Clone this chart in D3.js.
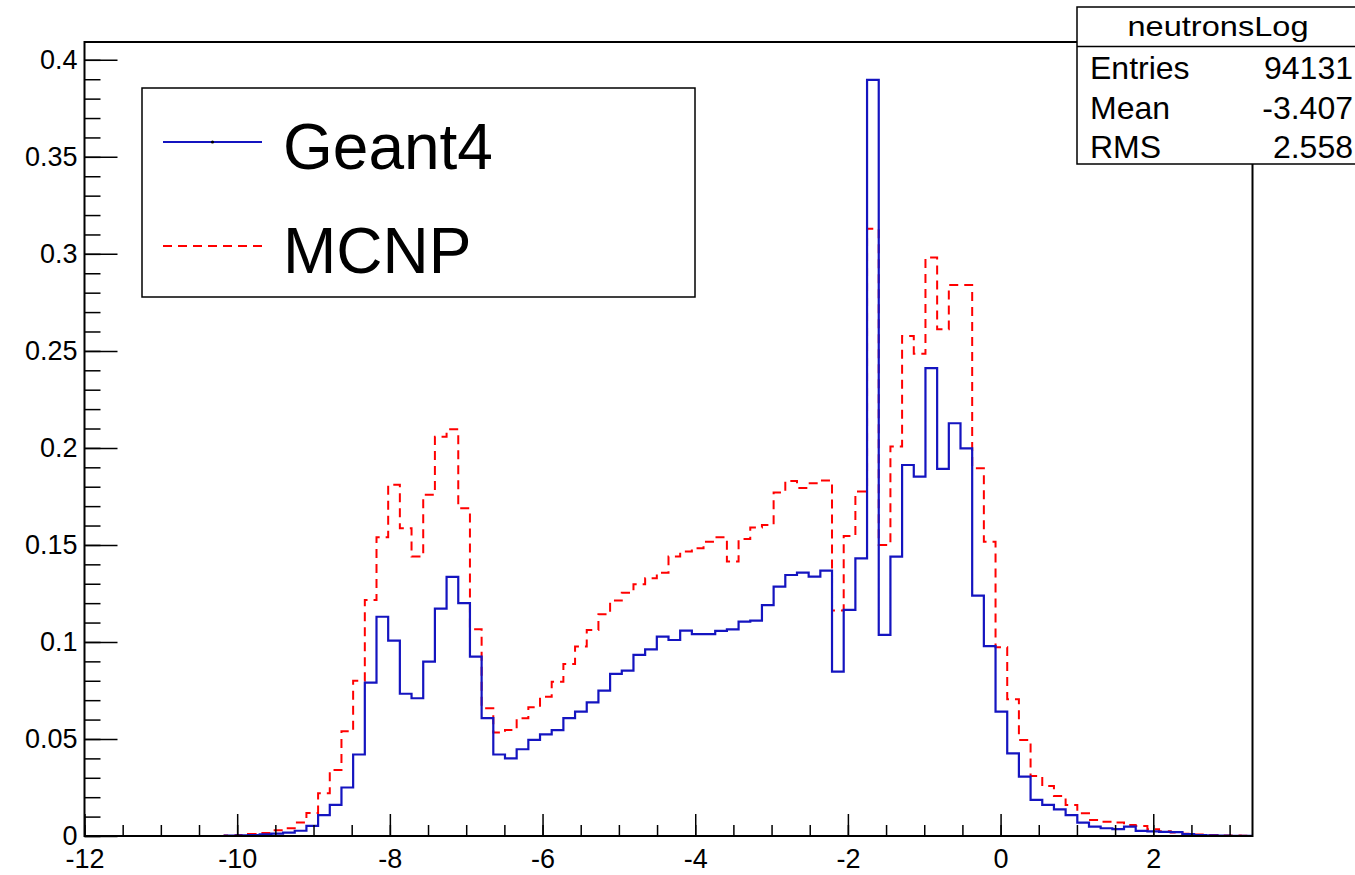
<!DOCTYPE html>
<html>
<head>
<meta charset="utf-8">
<script src="https://cdn.jsdelivr.net/npm/d3@7"></script>
<style>
  html, body { margin: 0; padding: 0; background: #fff; }
  svg { display: block; }
  text { font-family: "Liberation Sans", Arial, Helvetica, sans-serif; fill: #000; }
</style>
</head>
<body>
<svg id="chart" width="1355" height="875"></svg>
<script>
// ---- data ----
const xRange = [-12, 3.3];
const nBins = 100;

const geant4 = [
  0, 0, 0, 0, 0, 0, 0, 0, 0, 0,
  0, 0, 0.0002, 0.0003, 0.0005, 0.0008, 0.0012, 0.0017, 0.0027, 0.0052,
  0.0108, 0.016, 0.025, 0.042, 0.079, 0.113, 0.1007, 0.0733, 0.071, 0.0899,
  0.1172, 0.1335, 0.120, 0.0924, 0.0607, 0.042, 0.040, 0.0447, 0.0495, 0.0524,
  0.0546, 0.0607, 0.0641, 0.0689, 0.0749, 0.0835, 0.0852, 0.0933, 0.0962, 0.1027,
  0.101, 0.1058, 0.104, 0.104, 0.1057, 0.1065, 0.1105, 0.111, 0.119, 0.1285,
  0.1345, 0.1357, 0.1337, 0.1368, 0.0847, 0.1165, 0.1431, 0.3897, 0.1036, 0.144,
  0.1912, 0.1852, 0.2411, 0.1892, 0.2127, 0.1998, 0.1239, 0.0979, 0.0641, 0.0426,
  0.0306, 0.0186, 0.016, 0.0137, 0.0108, 0.0069, 0.0048, 0.004, 0.0035, 0.0048,
  0.0026, 0.0024, 0.0021, 0.002, 0.001, 0.0005, 0.0003, 0.0002, 0.0001, 0.0001
];

const mcnp = [
  0, 0, 0, 0, 0, 0, 0, 0, 0, 0,
  0, 0, 0.0002, 0.0005, 0.001, 0.0016, 0.003, 0.004, 0.007, 0.0118,
  0.022, 0.034, 0.054, 0.080, 0.1216, 0.154, 0.181, 0.1586, 0.144, 0.1758,
  0.2058, 0.2096, 0.1689, 0.1065, 0.0658, 0.0533, 0.0546, 0.0607, 0.0663, 0.0718,
  0.0795, 0.0887, 0.0976, 0.1062, 0.1143, 0.1213, 0.1254, 0.1297, 0.1328, 0.1357,
  0.144, 0.1466, 0.1483, 0.1517, 0.154, 0.1414, 0.153, 0.159, 0.1603, 0.177,
  0.183, 0.1794, 0.1818, 0.1832, 0.1162, 0.1546, 0.1775, 0.3129, 0.150, 0.2007,
  0.2577, 0.2485, 0.2981, 0.2612, 0.284, 0.284, 0.1895, 0.1517, 0.0973, 0.0705,
  0.0495, 0.0309, 0.0258, 0.0206, 0.016, 0.0117, 0.0082, 0.0074, 0.0069, 0.0057,
  0.0052, 0.0035, 0.0024, 0.0018, 0.0012, 0.0008, 0.0005, 0.0003, 0.0002, 0.0001
];

const xTicks = [-12, -10, -8, -6, -4, -2, 0, 2];
const xTickLabels = ["-12", "-10", "-8", "-6", "-4", "-2", "0", "2"];
const yTicks = [0, 0.05, 0.1, 0.15, 0.2, 0.25, 0.3, 0.35, 0.4];
const yTickLabels = ["0", "0.05", "0.1", "0.15", "0.2", "0.25", "0.3", "0.35", "0.4"];

const legendLabels = ["Geant4", "MCNP"];
const statsTitle = "neutronsLog";
const statsNames = ["Entries", "Mean", "RMS"];
const statsValues = ["94131", "-3.407", "2.558"];

// ---- layout ----
const svg = d3.select("#chart");
const plot = { left: 84.5, right: 1252.5, top: 42, bottom: 836 };
const yMax = d3.max(geant4.concat(mcnp)) * 1.05;

const x = d3.scaleLinear().domain(xRange).range([plot.left, plot.right]);
const y = d3.scaleLinear().domain([0, yMax]).range([plot.bottom, plot.top]);

const binW = (xRange[1] - xRange[0]) / nBins;
function stepPoints(vals) {
  const pts = vals.map((v, i) => [xRange[0] + i * binW, v]);
  pts.push([xRange[1], vals[vals.length - 1]]);
  return pts;
}
const stepLine = d3.line().x(d => x(d[0])).y(d => y(d[1])).curve(d3.curveStepAfter);

const blue = "#1414c0";
const red = "#ff0000";

// histograms
svg.append("path")
  .attr("d", stepLine(stepPoints(mcnp)))
  .attr("fill", "none").attr("stroke", red).attr("stroke-width", 2)
  .attr("stroke-dasharray", "9,6");
svg.append("path")
  .attr("d", stepLine(stepPoints(geant4)))
  .attr("fill", "none").attr("stroke", blue).attr("stroke-width", 2.2);

// axes (ticks inward, ROOT style)
const yMinor = d3.range(0, yMax, 0.01);
const xMinor = d3.range(-12, 3.3001, 0.5);

const yAxisMajor = d3.axisLeft(y).tickValues(yTicks).tickSize(-33).tickPadding(7)
  .tickFormat((d, i) => yTickLabels[i]);
const yAxisMinor = d3.axisLeft(y).tickValues(yMinor).tickSize(-16).tickFormat("");
const xAxisMajor = d3.axisBottom(x).tickValues(xTicks).tickSize(-22).tickPadding(13)
  .tickFormat((d, i) => xTickLabels[i]);
const xAxisMinor = d3.axisBottom(x).tickValues(xMinor).tickSize(-11).tickFormat("");

function styleAxis(g) {
  g.select(".domain").remove();
  g.selectAll(".tick line").attr("stroke", "#000").attr("stroke-width", 1.5);
  g.selectAll(".tick text").attr("font-size", 27).attr("font-family", "Liberation Sans, Arial, sans-serif").attr("fill", "#000");
}
svg.append("g").attr("transform", `translate(${plot.left},0)`).call(yAxisMinor).call(styleAxis);
svg.append("g").attr("transform", `translate(${plot.left},0)`).call(yAxisMajor).call(styleAxis);
svg.append("g").attr("transform", `translate(0,${plot.bottom})`).call(xAxisMinor).call(styleAxis);
svg.append("g").attr("transform", `translate(0,${plot.bottom})`).call(xAxisMajor).call(styleAxis);

// frame
svg.append("rect")
  .attr("x", plot.left).attr("y", plot.top)
  .attr("width", plot.right - plot.left).attr("height", plot.bottom - plot.top)
  .attr("fill", "none").attr("stroke", "#000").attr("stroke-width", 2);

// legend
const leg = svg.append("g");
leg.append("rect").attr("x", 142).attr("y", 88).attr("width", 553).attr("height", 209)
  .attr("fill", "#fff").attr("stroke", "#000").attr("stroke-width", 1.5);
const legStyles = [
  { color: blue, dash: null, marker: true },
  { color: red, dash: "9,6", marker: false }
];
legendLabels.forEach((lab, i) => {
  const cy = 142 + i * 104;
  const ln = leg.append("line").attr("x1", 163).attr("x2", 262).attr("y1", cy).attr("y2", cy)
    .attr("stroke", legStyles[i].color).attr("stroke-width", 2);
  if (legStyles[i].dash) ln.attr("stroke-dasharray", legStyles[i].dash);
  if (legStyles[i].marker) {
    leg.append("circle").attr("cx", 212.5).attr("cy", cy).attr("r", 1.6).attr("fill", "#000");
  }
  leg.append("text").attr("x", 283).attr("y", cy + 27).attr("font-size", 64).text(lab);
});

// stats box
const st = svg.append("g");
st.append("rect").attr("x", 1077).attr("y", 7).attr("width", 300).attr("height", 157)
  .attr("fill", "#fff").attr("stroke", "#000").attr("stroke-width", 1.5);
st.append("line").attr("x1", 1077).attr("x2", 1377).attr("y1", 46.5).attr("y2", 46.5)
  .attr("stroke", "#000").attr("stroke-width", 1.5);
st.append("text").attr("x", 1218).attr("y", 36).attr("text-anchor", "middle")
  .attr("font-size", 28).attr("textLength", 181).attr("lengthAdjust", "spacingAndGlyphs")
  .text(statsTitle);
statsNames.forEach((n, i) => {
  const by = 79 + i * 39.5;
  st.append("text").attr("x", 1090).attr("y", by).attr("font-size", 32).text(n);
  st.append("text").attr("x", 1353).attr("y", by).attr("text-anchor", "end")
    .attr("font-size", 32).text(statsValues[i]);
});
</script>
</body>
</html>
